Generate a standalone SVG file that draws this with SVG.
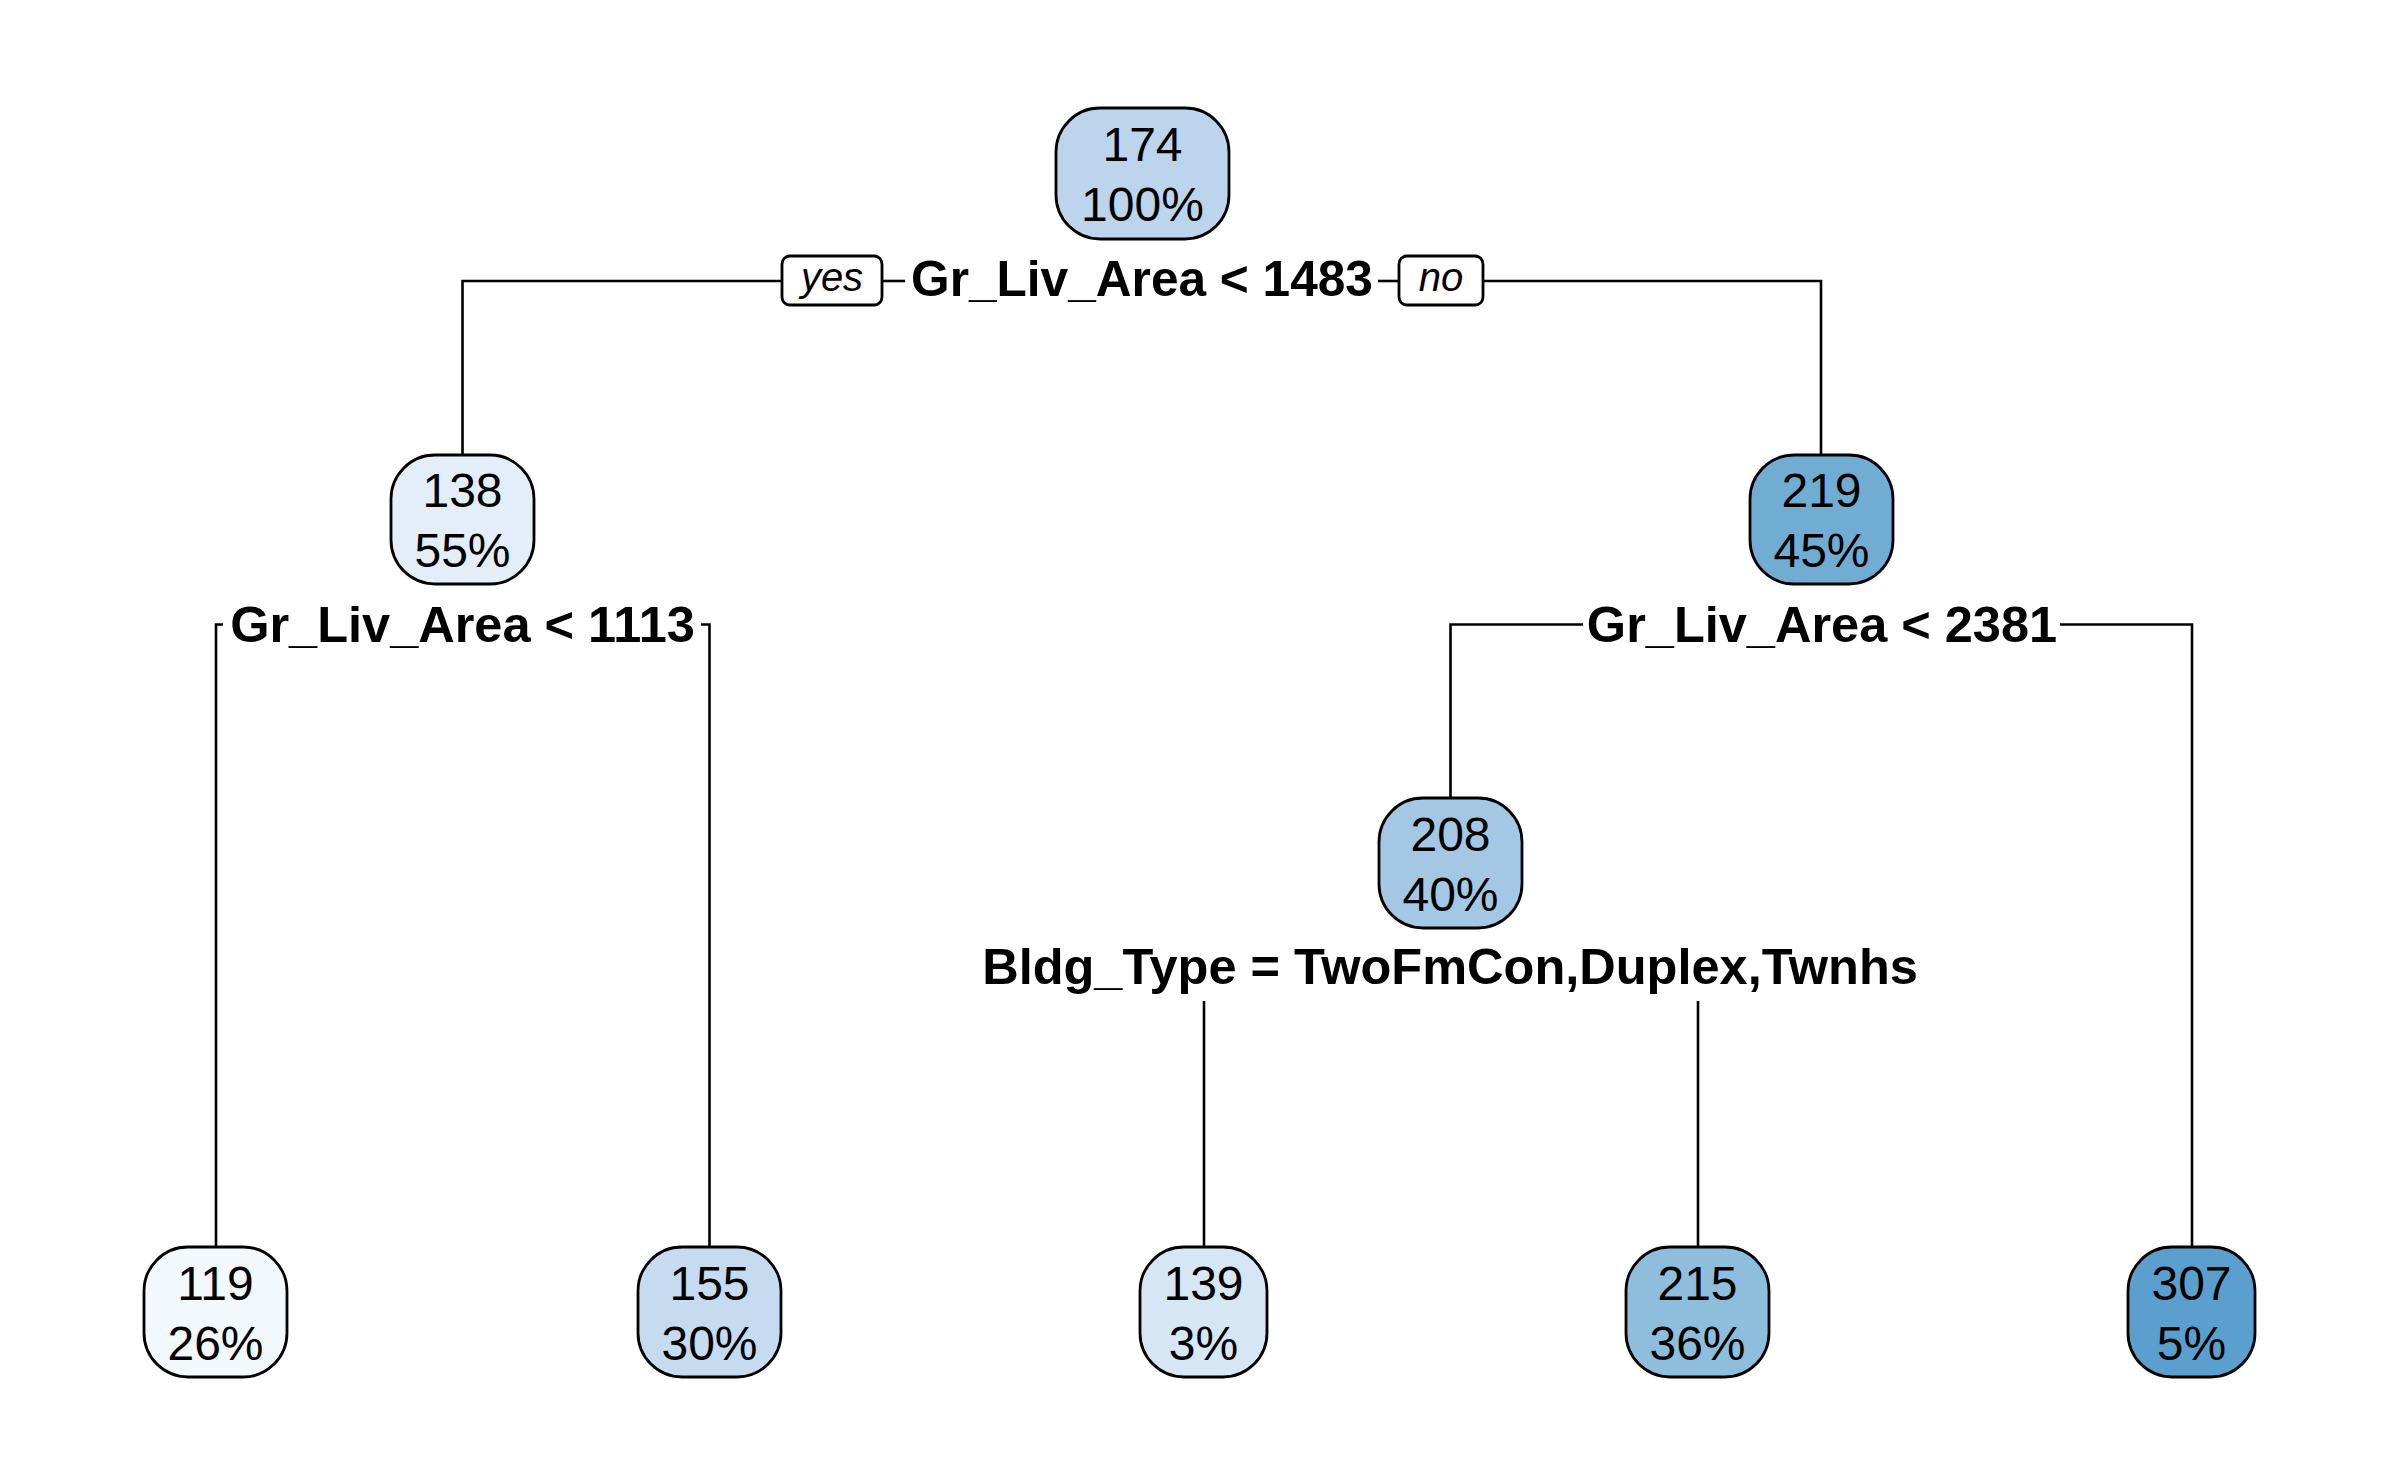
<svg xmlns="http://www.w3.org/2000/svg" width="2400" height="1483" viewBox="0 0 2400 1483">
<style>
.box{stroke:#000;stroke-width:2.8}
.t{font-family:"Liberation Sans",Arial,sans-serif;font-size:48px;fill:#000;text-anchor:middle}
.s{font-family:"Liberation Sans",Arial,sans-serif;font-size:50.5px;font-weight:bold;fill:#000;text-anchor:middle}
.yn{font-family:"Liberation Sans",Arial,sans-serif;font-size:40px;font-style:italic;fill:#000;text-anchor:middle}
.c{fill:none;stroke:#000;stroke-width:2.6}
</style>
<rect width="2400" height="1483" fill="#fff"/>
<g id="connectors">
<polyline class="c" points="782,281 462.5,281 462.5,455"/>
<line class="c" x1="882" y1="281" x2="905" y2="281"/>
<line class="c" x1="1378" y1="281" x2="1399" y2="281"/>
<polyline class="c" points="1483,281 1821,281 1821,455"/>
<polyline class="c" points="223,624.5 216,624.5 216,1247"/>
<polyline class="c" points="701,624.5 709.5,624.5 709.5,1247"/>
<polyline class="c" points="1583,624.5 1450.5,624.5 1450.5,798"/>
<polyline class="c" points="2060,624.5 2192,624.5 2192,1247"/>
<line class="c" x1="1204" y1="1001" x2="1204" y2="1247"/>
<line class="c" x1="1698" y1="1001" x2="1698" y2="1247"/>
<rect class="box" x="782" y="256" width="100" height="49" rx="8" fill="#fff"/>
<text class="yn" x="832" y="291">yes</text>
<rect class="box" x="1399" y="256" width="84" height="49" rx="8" fill="#fff"/>
<text class="yn" x="1441" y="291">no</text>
</g>
<g id="node1">
<rect class="box" x="1056" y="108" width="173" height="131" rx="44" fill="#BDD5EC"/>
<text class="t" x="1142.5" y="161">174</text>
<text class="t" x="1142.5" y="221">100%</text>
<text class="s" x="1142" y="296" style="font-size:49.6px">Gr_Liv_Area &lt; 1483</text>
</g>
<g id="node2">
<rect class="box" x="391" y="455" width="143" height="129" rx="44" fill="#E3EEF9"/>
<text class="t" x="462.5" y="507">138</text>
<text class="t" x="462.5" y="567">55%</text>
<text class="s" x="462.5" y="642">Gr_Liv_Area &lt; 1113</text>
</g>
<g id="node3">
<rect class="box" x="1750" y="455" width="143" height="129" rx="44" fill="#71ADD3"/>
<text class="t" x="1821.5" y="507">219</text>
<text class="t" x="1821.5" y="567">45%</text>
<text class="s" x="1822" y="642">Gr_Liv_Area &lt; 2381</text>
</g>
<g id="node4">
<rect class="box" x="144" y="1247" width="143" height="130" rx="44" fill="#F3F8FD"/>
<text class="t" x="215.5" y="1300">119</text>
<text class="t" x="215.5" y="1360">26%</text>
</g>
<g id="node5">
<rect class="box" x="638" y="1247" width="143" height="130" rx="44" fill="#C6DBEF"/>
<text class="t" x="709.5" y="1300">155</text>
<text class="t" x="709.5" y="1360">30%</text>
</g>
<g id="node6">
<rect class="box" x="1379" y="798" width="143" height="130" rx="44" fill="#A4C8E3"/>
<text class="t" x="1450.5" y="851">208</text>
<text class="t" x="1450.5" y="911">40%</text>
<text class="s" x="1450" y="984">Bldg_Type = TwoFmCon,Duplex,Twnhs</text>
</g>
<g id="node7">
<rect class="box" x="2128" y="1247" width="127" height="130" rx="44" fill="#5A9FCD"/>
<text class="t" x="2191.5" y="1300">307</text>
<text class="t" x="2191.5" y="1360">5%</text>
</g>
<g id="node8">
<rect class="box" x="1140" y="1247" width="127" height="130" rx="44" fill="#D7E6F5"/>
<text class="t" x="1203.5" y="1300">139</text>
<text class="t" x="1203.5" y="1360">3%</text>
</g>
<g id="node9">
<rect class="box" x="1626" y="1247" width="143" height="130" rx="44" fill="#8FBEDC"/>
<text class="t" x="1697.5" y="1300">215</text>
<text class="t" x="1697.5" y="1360">36%</text>
</g>
</svg>
